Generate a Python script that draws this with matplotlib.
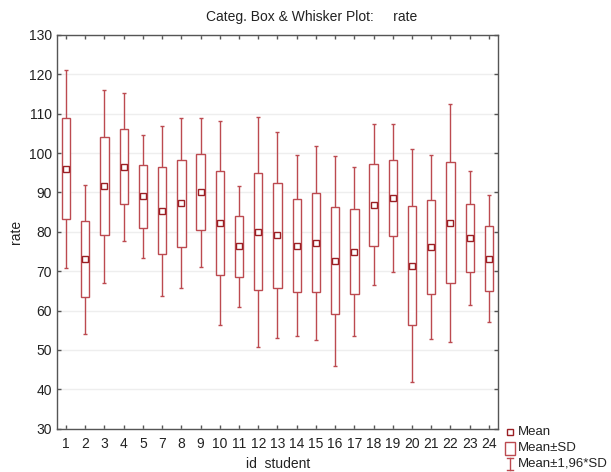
import numpy as np
import matplotlib
matplotlib.use("Agg")
import matplotlib.pyplot as plt
from matplotlib.patches import Rectangle
from matplotlib.lines import Line2D

plt.rcParams["font.family"] = ["Liberation Sans", "DejaVu Sans"]

# student ids (no 6 in the data)
ids = [1, 2, 3, 4, 5, 7, 8, 9, 10, 11, 12, 13, 14, 15, 16, 17, 18, 19, 20, 21, 22, 23, 24]
means = [96.0, 73.0, 91.6, 96.5, 89.0, 85.3, 87.3, 90.1, 82.3, 76.3, 80.0, 79.1,
         76.5, 77.2, 72.7, 75.0, 86.9, 88.6, 71.4, 76.2, 82.3, 78.4, 73.2]
sds = [12.85, 9.65, 12.5, 9.55, 7.95, 11.05, 11.05, 9.65, 13.2, 7.8, 14.9, 13.35,
       11.75, 12.6, 13.6, 10.9, 10.4, 9.6, 15.1, 11.95, 15.4, 8.65, 8.25]
yticks = [30, 40, 50, 60, 70, 80, 90, 100, 110, 120, 130]

box_col = "#bc4a50"
mean_col = "#9a1f24"
txt_col = "#222222"
fs = 10

fig = plt.figure(figsize=(6.11, 4.72), dpi=100)
ax = fig.add_axes([0.0933, 0.0917, 0.7217, 0.8343])

pos = np.arange(len(ids))
m = np.array(means)
s = np.array(sds)
w = 0.43

# whiskers: mean +- 1.96*SD
ax.errorbar(pos, m, yerr=1.96 * s, fmt="none", ecolor=box_col, elinewidth=1.0,
            capsize=1.5, capthick=1.0, zorder=2)
# boxes: mean +- SD
for p, mu, sd in zip(pos, m, s):
    ax.add_patch(Rectangle((p - w / 2, mu - sd), w, 2 * sd, facecolor="white",
                           edgecolor=box_col, lw=1.0, zorder=3))
ax.plot(pos, m, ls="none", marker="s", ms=4.2, mfc="white", mec=mean_col,
        mew=1.0, zorder=4)

ax.set_xlim(-0.47, len(ids) - 0.53)
ax.set_ylim(30, 130)
ax.set_xticks(pos)
ax.set_xticklabels([str(i) for i in ids])
ax.set_yticks(yticks)
ax.yaxis.grid(True, color="#eeeeee", lw=1.0)
ax.set_axisbelow(True)
ax.tick_params(direction="in", length=3, width=1, color="#555555",
               labelsize=fs, top=True, right=True, labelcolor=txt_col)
ax.tick_params(axis="x", pad=6)
for sp in ax.spines.values():
    sp.set_color("#555555")
    sp.set_linewidth(1.0)

fig.text(0.455, 1 - 464 / 472, "id  student", ha="center", va="center",
         fontsize=fs, color=txt_col)
ax.set_ylabel("rate", fontsize=fs, color=txt_col, labelpad=4)
fig.text(0.51, 0.963, "Categ. Box & Whisker Plot:     rate", ha="center",
         va="center", fontsize=fs, color=txt_col)

# legend, drawn by hand below the right side of the plot
lfs = 9.5
fx = 510 / 611
fig.add_artist(Rectangle((fx - 3 / 611, 1 - 435 / 472), 6 / 611, 6 / 472,
                         transform=fig.transFigure, facecolor="white",
                         edgecolor=mean_col, lw=1.0))
fig.text(518 / 611, 1 - 432 / 472, "Mean", fontsize=lfs, va="center", color=txt_col)
fig.add_artist(Rectangle((fx - 5 / 611, 1 - 455 / 472), 10 / 611, 13 / 472,
                         transform=fig.transFigure, facecolor="white",
                         edgecolor=box_col, lw=1.0))
fig.text(518 / 611, 1 - 448 / 472, "Mean±SD", fontsize=lfs, va="center", color=txt_col)
fig.add_artist(Line2D([fx, fx], [1 - 458 / 472, 1 - 470 / 472],
                      transform=fig.transFigure, color=box_col, lw=1.0))
fig.add_artist(Line2D([fx - 3 / 611, fx + 3 / 611], [1 - 458 / 472, 1 - 458 / 472],
                      transform=fig.transFigure, color=box_col, lw=1.0))
fig.add_artist(Line2D([fx - 3 / 611, fx + 3 / 611], [1 - 470 / 472, 1 - 470 / 472],
                      transform=fig.transFigure, color=box_col, lw=1.0))
fig.text(518 / 611, 1 - 463 / 472, "Mean±1,96*SD", fontsize=lfs, va="center", color=txt_col)

fig.savefig("out.png", dpi=100)
